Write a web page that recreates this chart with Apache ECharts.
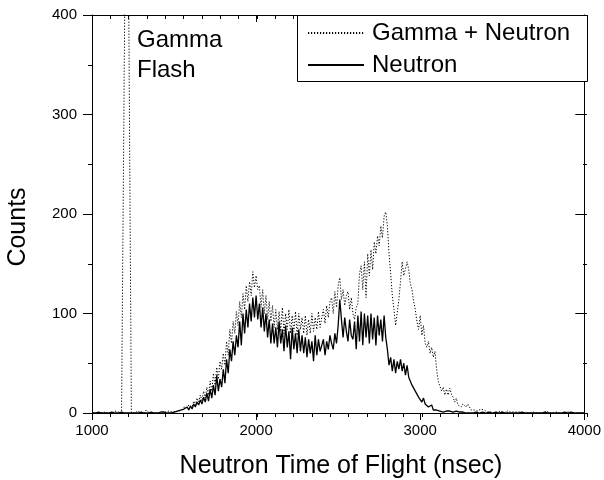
<!DOCTYPE html>
<html>
<head>
<meta charset="utf-8">
<script src="https://cdn.jsdelivr.net/npm/echarts@6/dist/echarts.min.js"></script>
<style>
html,body{margin:0;padding:0;background:#fff;}
#chart{width:604px;height:480px;}
</style>
</head>
<body>
<div id="chart"></div>
<script>
// Time-of-flight bins (ns): first bin and bin width
const binStart = 1000;
const binWidth = 10;

// Counts, "Gamma + Neutron" (dotted), one value per 10 ns bin from 1000 to 4000
const gammaNeutron = [
  1,0,0,1,0,2,0,0,1,0,
  0,1,0,0,2,0,1,0,0,0,
  420,650,520,250,0,1,0,0,2,0,
  0,1,0,3,1,0,2,0,1,0,
  1,0,2,0,1,1,0,2,0,1,
  2,1,3,2,4,3,6,4,5,8,
  9,6,12,8,15,11,18,12,22,15,
  26,18,32,22,40,28,46,34,52,44,
  60,48,72,58,84,70,92,80,102,88,
  112,96,120,104,128,112,132,118,142,126,
  138,124,128,106,124,100,118,94,112,92,
  108,86,104,84,102,82,106,80,100,84,
  104,80,98,82,102,78,100,84,96,80,
  98,78,94,80,100,82,96,84,102,86,
  96,104,90,108,96,112,116,100,122,106,
  128,136,114,124,108,118,122,104,116,100,
  94,106,110,140,148,124,152,116,160,138,
  164,144,172,160,178,168,188,176,198,202,
  188,160,140,118,104,88,86,114,132,152,
  138,136,152,144,130,124,112,104,92,84,
  98,78,88,70,66,72,60,66,56,62,
  44,32,27,22,26,18,24,18,25,19,
  16,11,15,8,10,6,9,10,6,9,
  6,3,5,3,4,2,3,4,2,3,
  2,1,3,1,2,0,2,1,0,2,
  1,0,1,2,0,1,0,1,0,1,
  0,1,0,0,2,0,1,0,0,1,
  0,0,1,0,1,0,0,2,0,0,
  1,0,0,1,0,0,1,0,0,1,
  0,1,0,0,1,0,0,0,1,0,
  0
];

// Counts, "Neutron" (solid)
const neutron = [
  0,1,0,0,1,0,0,2,0,1,
  0,0,1,0,0,1,0,0,1,0,
  0,1,0,0,0,1,0,1,0,0,
  1,0,0,2,0,0,1,0,0,1,
  0,0,1,0,1,0,0,1,0,1,
  1,0,2,1,3,2,4,3,6,3,
  7,4,9,6,11,8,13,9,16,11,
  20,12,24,15,28,18,38,22,34,26,
  44,30,54,40,64,52,72,58,78,66,
  92,68,100,80,104,86,110,92,116,96,
  118,94,110,86,106,82,100,76,94,70,
  90,70,86,66,92,70,84,62,88,66,
  82,54,86,64,80,60,84,62,78,60,
  76,56,74,60,72,52,78,58,74,62,
  68,74,58,72,64,78,70,64,80,70,
  88,114,94,76,96,82,72,94,78,74,
  92,64,98,72,102,68,100,76,98,70,
  100,74,96,68,98,78,94,72,98,76,
  64,48,56,42,54,40,52,44,54,42,
  50,38,48,36,34,28,30,22,21,16,
  17,11,15,9,10,6,7,8,3,5,
  3,5,2,4,1,3,2,1,2,0,
  1,0,2,0,1,0,1,0,0,1,
  0,1,0,0,1,0,0,0,1,0,
  0,0,1,0,0,0,1,0,0,0,
  1,0,0,0,0,1,0,0,0,0,
  0,0,1,0,0,0,0,1,0,0,
  0,1,0,0,0,0,1,0,0,0,
  0,0,0,1,0,0,0,0,1,0,
  0,0,1,0,0,0,0,1,0,0,
  0
];

const seriesNames = ['Gamma + Neutron', 'Neutron'];
const xTitle = 'Neutron Time of Flight (nsec)';
const yTitle = 'Counts';
const annotation = ['Gamma', 'Flash'];

// Axis ranges and tick steps
const xRange = [1000, 4000], xMajor = 1000, xMinorPerMajor = 9;
const yRange = [0, 400], yMajor = 100, yMinorPerMajor = 2;

const toPairs = arr => arr.map((v, i) => [binStart + i * binWidth, v]);

const FONT = '"Liberation Sans", Arial, sans-serif';
const chart = echarts.init(document.getElementById('chart'), null, {renderer: 'canvas'});

const plainNum = v => String(v);
const blackLine = {color: '#000', width: 1};
const gridBox = {left: 92, right: 17, top: 15, bottom: 67, containLabel: false};

function majorAxis(kind, position, inside, showLabel) {
  const isX = kind === 'x';
  return {
    gridIndex: 0,
    type: 'value',
    min: isX ? xRange[0] : yRange[0], max: isX ? xRange[1] : yRange[1],
    interval: isX ? xMajor : yMajor,
    position: position,
    axisLine: {show: true, onZero: false, lineStyle: blackLine},
    axisTick: {show: true, inside: inside, length: isX ? 7 : 9, lineStyle: blackLine},
    splitLine: {show: false},
    axisLabel: showLabel
      ? {color: '#000', fontSize: 15, fontFamily: FONT, margin: isX ? 10 : 15, formatter: plainNum}
      : {show: false}
  };
}
function minorAxis(kind, position, inside) {
  const isX = kind === 'x';
  return {
    gridIndex: 1,
    type: 'value',
    min: isX ? xRange[0] : yRange[0], max: isX ? xRange[1] : yRange[1],
    interval: isX ? xMajor / xMinorPerMajor : yMajor / yMinorPerMajor,
    position: position,
    axisLine: {show: false, onZero: false},
    axisTick: {show: true, inside: inside, length: 4, lineStyle: blackLine},
    splitLine: {show: false},
    axisLabel: {show: false}
  };
}

chart.setOption({
  animation: false,
  backgroundColor: '#fff',
  grid: [Object.assign({}, gridBox), Object.assign({}, gridBox)],
  xAxis: [
    majorAxis('x', 'bottom', false, true),
    majorAxis('x', 'top', true, false),
    minorAxis('x', 'bottom', false),
    minorAxis('x', 'top', true)
  ],
  yAxis: [
    majorAxis('y', 'left', false, true),
    majorAxis('y', 'right', true, false),
    minorAxis('y', 'left', false),
    minorAxis('y', 'right', true)
  ],
  legend: {
    orient: 'vertical',
    left: 307, top: 21,
    padding: 0,
    z: 20,
    itemWidth: 56, itemHeight: 10, itemGap: 8,
    itemStyle: {opacity: 0},
    lineStyle: {color: '#000', opacity: 1},
    textStyle: {color: '#000', fontSize: 24, fontFamily: FONT, padding: [0,0,0,3]},
    data: seriesNames,
    selectedMode: false
  },
  graphic: [
    {type: 'rect', left: 297, top: 15, z: 1,
     shape: {width: 290, height: 66},
     style: {fill: '#fff', stroke: '#000', lineWidth: 1}},
    {type: 'text', left: 137, top: 28, z: 10,
     style: {text: annotation[0], fill: '#000', font: '24px ' + FONT}},
    {type: 'text', left: 137, top: 58, z: 10,
     style: {text: annotation[1], fill: '#000', font: '24px ' + FONT}},
    {type: 'text', x: 341, y: 466, z: 10,
     style: {text: xTitle, fill: '#000', font: '25px ' + FONT, align: 'center', verticalAlign: 'middle'}},
    {type: 'text', x: 18, y: 227, rotation: Math.PI / 2, z: 10,
     style: {text: yTitle, fill: '#000', font: '25px ' + FONT, align: 'center', verticalAlign: 'middle'}}
  ],
  series: [
    {
      name: seriesNames[0], type: 'line', xAxisIndex: 0, yAxisIndex: 0,
      data: toPairs(gammaNeutron), showSymbol: false, symbol: 'none', clip: true,
      itemStyle: {color: '#000'},
      lineStyle: {color: '#000', width: 1, type: [1.2, 1.8]}, z: 2
    },
    {
      name: seriesNames[1], type: 'line', xAxisIndex: 0, yAxisIndex: 0,
      data: toPairs(neutron), showSymbol: false, symbol: 'none', clip: true,
      itemStyle: {color: '#000'},
      lineStyle: {color: '#000', width: 1.3, type: 'solid'}, z: 3
    }
  ]
});
</script>
</body>
</html>
